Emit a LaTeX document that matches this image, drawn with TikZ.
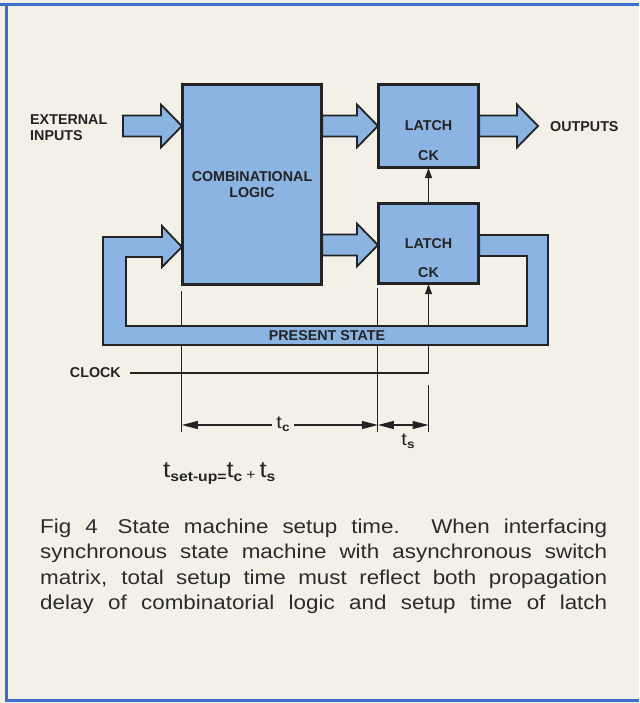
\documentclass[tikz,border=0pt]{standalone}
\usepackage{fontspec}
\setmainfont{Liberation Sans}
\newfontfamily\widefont[FakeStretch=1.12]{Liberation Sans}
\usetikzlibrary{arrows.meta,calc}
\definecolor{paper}{HTML}{F3F0E8}
\definecolor{blockblue}{HTML}{8CB4E3}
\definecolor{ink}{HTML}{232323}
\definecolor{captink}{HTML}{2B2B2B}
\definecolor{frameblue}{HTML}{3D6DC9}
\newcommand\fatarr[2]{%
  \path[fatarrow] let \p1=(#1), \p2=(#2) in
    (\x1,\y2+10.5pt) -- (\x2-21pt,\y2+10.5pt) -- (\x2-21pt,\y2+21.5pt) -- (\x2,\y2)
    -- (\x2-21pt,\y2-21.5pt) -- (\x2-21pt,\y2-10.5pt) -- (\x1,\y2-10.5pt) -- cycle;}
\newcommand\bigt{{\widefont\fontsize{23}{23}\selectfont t}}
\newcommand\subtxt[1]{\raisebox{-4pt}{\widefont\fontsize{14}{14}\selectfont\bfseries #1}}
\begin{document}
\begin{tikzpicture}[x=1pt,y=-1pt,
  blockbox/.style={draw=ink, line width=2.2pt, fill=blockblue, inner sep=0pt},
  fatarrow/.style={draw=ink, line width=1.8pt, fill=blockblue, line join=miter},
  lbl/.style={font=\fontsize{14.3}{16}\selectfont\bfseries, text=ink, inner sep=0pt},
  thinline/.style={draw=ink, line width=1.1pt},
  dimline/.style={draw=ink, line width=1.1pt, {Triangle[length=16pt,width=8pt]}-{Triangle[length=16pt,width=8pt]}},
  smalltip/.style={-{Triangle[length=10pt,width=7pt]}},
  captxt/.style={font=\widefont\fontsize{20}{25}\selectfont, text=captink, inner sep=0pt, anchor=base west},
]
\fill[paper] (0,0) rectangle (639,703);
\useasboundingbox (0,0) rectangle (639,703);
% frame
\draw[frameblue, line width=3pt] (0,5) -- (639,5);
\draw[frameblue, line width=3pt] (6,5) -- (6,700) -- (639,700);

% blocks
\node[blockbox, lbl, draw=ink, minimum width=138pt, minimum height=199pt, align=center] (comb) at (252,184.5) {COMBINATIONAL\\LOGIC};
\node[blockbox, lbl, draw=ink, minimum width=99pt, minimum height=82pt] (l1) at (428.5,126) {LATCH};
\node[blockbox, lbl, draw=ink, minimum width=99pt, minimum height=79pt] (l2) at (428.5,243.5) {LATCH};
\node[lbl] (l1ck) at (428.5,156) {CK};
\node[lbl] (l2ck) at (428.5,273) {CK};

% labels
\node[lbl, anchor=west, align=left] (extin) at (30,128) {EXTERNAL\\INPUTS};
\node[lbl, anchor=west] (outs) at (550,127) {OUTPUTS};
\node[lbl, anchor=east] (clk) at (121,373) {CLOCK};

% extension lines (under the band)
\draw[thinline] ([yshift=-6pt]comb.south west) -- (comb.south west |- 0,432);
\draw[thinline] ([yshift=-4pt]l2.south west) -- (l2.south west |- 0,432);
\draw[thinline] (l2.south |- 0,385) -- (l2.south |- 0,432);

% clock line
\draw[thinline, smalltip] ([xshift=9pt]clk.east) -- (l2.south |- clk.east) -- (l2.south);

% feedback band
\path[fatarrow] (l2.east |- 0,235) -- (548,235) -- (548,345) -- (103,345) -- (103,237)
  -- (162,237) -- (162,226) -- (comb.west |- 0,247) -- (162,267) -- (162,257)
  -- (126,257) -- (126,326) -- (527,326) -- (527,256) -- (l2.east |- 0,256) -- cycle;
\node[lbl] (ps) at (327,335.5) {PRESENT STATE};

% fat arrows
\coordinate (extstart) at (123,126);
\coordinate (outtip) at (538,126);
\fatarr{extstart}{comb.west |- 0,126}
\fatarr{comb.east |- 0,126}{l1.west}
\fatarr{comb.east |- 0,245}{l2.west |- 0,245}
\fatarr{l1.east}{outtip}

% redraw block outlines on top
\draw[ink, line width=2.2pt] (comb.south west) rectangle (comb.north east);
\draw[ink, line width=2.2pt] (l1.south west) rectangle (l1.north east);
\draw[ink, line width=2.2pt] (l2.south west) rectangle (l2.north east);

% latch to latch clock
\draw[thinline, smalltip] (l2.north) -- (l1.south);

% dimensions
\coordinate (dA) at (comb.south west |- 0,425);
\coordinate (dB) at (l2.south west |- 0,425);
\coordinate (dC) at (l2.south |- 0,425);
\draw[dimline] (dA) -- (dB);
\draw[dimline] (dB) -- (dC);
\node[fill=paper, inner xsep=4pt, inner ysep=1pt, text=ink] (tc) at (283,424) {\widefont\fontsize{18}{18}\selectfont t\raisebox{-3.5pt}{\fontsize{12}{12}\selectfont\bfseries c}};
\node[inner sep=0pt, text=ink] (ts) at (408,441) {\widefont\fontsize{18}{18}\selectfont t\raisebox{-3.5pt}{\fontsize{12}{12}\selectfont\bfseries s}};

% formula
\node[anchor=base west, inner sep=0pt, text=ink] (formula) at (163,477)
  {\bigt\subtxt{set-up=}\bigt\subtxt{c}\hspace{4pt}\raisebox{-2pt}{\widefont\fontsize{14}{14}\selectfont +}\hspace{4pt}\bigt\subtxt{s}};

% caption
\node[captxt] (cap1) at (40,533) {\makebox[567pt][s]{Fig 4\hspace{0.3em} State machine setup time. When interfacing}};
\node[captxt] (cap2) at (40,558.5) {\makebox[567pt][s]{synchronous state machine with asynchronous switch}};
\node[captxt] (cap3) at (40,584) {\makebox[567pt][s]{matrix, total setup time must reflect both propagation}};
\node[captxt] (cap4) at (40,609.5) {\makebox[567pt][s]{delay of combinatorial logic and setup time of latch}};
\end{tikzpicture}
\end{document}
